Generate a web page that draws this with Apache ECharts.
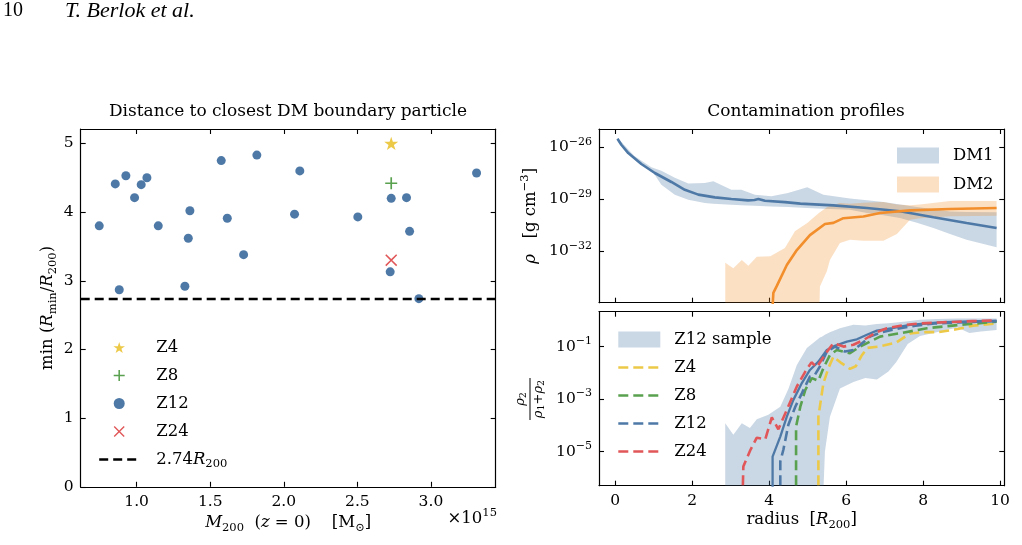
<!DOCTYPE html>
<html>
<head>
<meta charset="utf-8">
<title>Boundary particles and contamination profiles</title>
<script src="https://cdn.jsdelivr.net/npm/echarts@6/dist/echarts.min.js"></script>
<style>
  html, body { margin: 0; padding: 0; background: #fff; }
  #chart { width: 1022px; height: 545px; }
</style>
</head>
<body>
<div id="chart"></div>
<script>
// ---- left panel: min(R_min / R_200) against M_200 (units of 1e15 Msun)
const z12Mass = [0.746, 0.855, 0.882, 0.927, 0.986, 1.031, 1.070, 1.147, 1.328, 1.351, 1.362, 1.575,
  1.616, 1.727, 1.817, 2.073, 2.109, 2.503, 2.73, 2.723, 2.834, 2.855, 2.918, 3.310];
const z12Rmin = [3.80, 4.41, 2.87, 4.53, 4.21, 4.40, 4.50, 3.80, 2.92, 3.62, 4.02, 4.75,
  3.91, 3.38, 4.83, 3.97, 4.60, 3.93, 4.20, 3.13, 4.21, 3.72, 2.74, 4.57];
const z4Point = [2.73, 5.00];
const z8Point = [2.73, 4.42];
const z24Point = [2.73, 3.30];
const rminLimit = 2.74;
const massTicks = [1.0, 1.5, 2.0, 2.5, 3.0];
const rminTicks = [0, 1, 2, 3, 4, 5];

// ---- top right: density profiles, values are log10(rho / g cm^-3)
const dm1Radius = [0.06, 0.16, 0.34, 0.68, 1.03, 1.46, 1.81, 2.16, 2.59, 3.02, 3.45, 3.62, 3.72, 3.89,
  4.41, 4.81, 5.67, 6.54, 7.40, 8.27, 9.13, 9.91];
const dm1LogRho = [-25.5, -25.85, -26.33, -26.96, -27.48, -28.0, -28.45, -28.73, -28.89, -28.98, -29.06,
  -29.04, -28.98, -29.08, -29.16, -29.25, -29.35, -29.5, -29.69, -30.04, -30.37, -30.66];
const dm1BandRadius = [0.06, 0.5, 0.94, 1.2, 1.55, 1.9, 2.33, 2.55, 3.02, 3.28, 3.63, 4.06, 4.49, 4.99,
  5.41, 6.1, 6.54, 6.97, 7.4, 7.84, 8.27, 8.7, 9.13, 9.91];
const dm1BandHigh = [-25.45, -26.5, -27.15, -27.35, -27.75, -28.08, -28.06, -27.96, -28.45, -28.45, -28.73,
  -28.83, -28.64, -28.3, -28.73, -28.96, -29.05, -29.15, -29.3, -29.45, -29.58, -29.7, -29.73, -29.75];
const dm1BandLow = [-25.55, -26.65, -27.29, -28.16, -28.73, -29.02, -29.21, -29.25, -29.31, -29.34, -29.37,
  -29.42, -29.45, -29.5, -29.54, -29.6, -29.79, -29.92, -30.08, -30.35, -30.66, -31.0, -31.33, -31.77];

const dm2Radius = [4.07, 4.11, 4.20, 4.46, 4.72, 5.06, 5.45, 5.67, 5.93, 6.45, 6.88, 7.66, 8.70, 9.91];
const dm2LogRho = [-36, -34.4, -34.0, -32.79, -31.93, -31.07, -30.43, -30.36, -30.09, -29.99, -29.79,
  -29.64, -29.56, -29.5];
const dm2BandRadius = [2.86, 3.07, 3.29, 3.46, 3.68, 4.03, 4.41, 4.67, 4.99, 5.30, 5.32, 5.5, 5.58, 5.84,
  6.1, 6.45, 6.97, 7.32, 7.66, 7.92, 8.7, 9.91];
const dm2BandHigh = [-32.66, -32.98, -32.5, -32.84, -32.31, -32.29, -31.81, -30.85, -30.37, -29.78, -29.75,
  -29.46, -29.38, -29.21, -29.25, -29.2, -29.16, -29.3, -29.35, -29.3, -29.1, -29.1];
const dm2BandLow = [-36, -36, -36, -36, -36, -36, -36, -36, -36, -36, -34.04, -33.16, -32.5, -31.52,
  -31.33, -31.4, -31.4, -31.0, -30.18, -30.1, -29.98, -29.95];
const rhoTicks = [-32, -29, -26];

// ---- bottom right: contamination fraction, values are log10(rho2 / (rho1 + rho2))
const sampleRadius = [2.86, 3.07, 3.29, 3.5, 3.68, 3.98, 4.29, 4.5, 4.72, 4.98, 5.32, 5.37, 5.45, 5.58,
  5.84, 6.19, 6.5, 6.8, 7.1, 7.3, 7.6, 7.92, 8.35, 8.9, 9.2, 9.5, 9.91];
const sampleHigh = [-3.92, -4.36, -3.92, -4.1, -3.77, -3.6, -3.29, -2.62, -1.7, -1.05, -0.65, -0.62, -0.55,
  -0.45, -0.3, -0.17, -0.2, -0.14, -0.11, -0.08, -0.03, 0.02, 0.05, 0.07, 0.07, 0.07, 0.07];
const sampleLow = [-8, -8, -8, -8, -8, -8, -8, -8, -8, -8, -8, -8, -5.0, -3.67, -2.6, -2.35, -2.2, -2.25,
  -1.95, -1.6, -0.9, -0.6, -0.45, -0.27, -0.48, -0.42, -0.37];

const medianRadius = [4.09, 4.09, 4.29, 4.46, 4.63, 4.85, 5.06, 5.28, 5.5, 5.71, 6.02, 6.28, 6.54, 6.8,
  7.2, 7.66, 8.1, 8.53, 9.0, 9.5, 9.91];
const medianFrac = [-8, -5.19, -4.43, -3.67, -3.03, -2.39, -1.89, -1.57, -1.13, -0.97, -0.81, -0.72, -0.55,
  -0.39, -0.3, -0.17, -0.12, -0.07, -0.05, -0.03, -0.02];

const z4Radius = [5.28, 5.28, 5.41, 5.54, 5.67, 5.85, 6.1, 6.25, 6.4, 6.55, 6.84, 7.0, 7.3, 7.66, 8.0,
  8.4, 8.9, 9.3, 9.91];
const z4Frac = [-8, -3.67, -2.39, -1.82, -1.38, -1.6, -1.85, -1.75, -1.35, -1.05, -1.0, -0.95, -0.85,
  -0.5, -0.45, -0.45, -0.33, -0.2, -0.12];
const z8Radius = [4.70, 4.70, 4.81, 4.94, 5.11, 5.28, 5.41, 5.58, 5.76, 5.93, 6.1, 6.36, 6.62, 6.88, 7.4,
  8.1, 8.96, 9.91];
const z8Frac = [-8, -4.05, -3.29, -2.65, -2.2, -2.3, -1.82, -1.32, -1.13, -1.19, -1.25, -1.0, -0.81, -0.62,
  -0.49, -0.3, -0.17, -0.05];
const z12Radius = [4.29, 4.29, 4.37, 4.5, 4.68, 4.85, 5.06, 5.19, 5.32, 5.5, 5.71, 5.97, 6.19, 6.36, 6.62,
  6.88, 7.3, 7.8, 8.3, 8.9, 9.4, 9.91];
const z12Frac = [-8, -5.38, -4.93, -3.98, -3.29, -2.78, -2.14, -2.07, -1.76, -1.19, -1.0, -1.19, -1.13,
  -0.94, -0.62, -0.47, -0.33, -0.2, -0.12, -0.08, -0.05, -0.03];
const z24Radius = [3.29, 3.33, 3.51, 3.68, 3.9, 4.07, 4.24, 4.46, 4.72, 4.94, 5.1, 5.24, 5.5, 5.67, 5.93,
  6.19, 6.45, 6.8, 7.06, 7.5, 7.92, 8.4, 8.79, 9.3, 9.91];
const z24Frac = [-8, -5.57, -4.95, -4.47, -4.53, -3.7, -4.15, -3.41, -2.52, -1.95, -1.6, -1.78, -1.2, -0.87,
  -1.0, -0.93, -0.75, -0.45, -0.3, -0.18, -0.12, -0.08, -0.06, -0.03, 0.0];
const fracTicks = [-5, -3, -1];
const radiusTicks = [0, 2, 4, 6, 8, 10];

// ---- styling
const FONT = '"DejaVu Serif", "Liberation Serif", serif';
const HEAD_FONT = '"Liberation Serif", serif';
const BLUE = '#4e79a7';
const ORANGE = '#f28e2b';
const GREEN = '#59a14f';
const RED = '#e15759';
const YELLOW = '#edc948';
const DASH = [10, 5];

const STAR = 'path://M50,0L61.2,34.5L97.6,34.5L68.2,55.9L79.4,90.5L50,69.1L20.6,90.5L31.8,55.9L2.4,34.5L38.8,34.5Z';
const PLUS = 'path://M43,0H57V43H100V57H57V100H43V57H0V43H43Z';
const CROSS = 'path://M9,0L50,41L91,0L100,9L59,50L100,91L91,100L50,59L9,100L0,91L41,50L0,9Z';

const rich = {
  n: { fontFamily: FONT, fontSize: 16.5, color: '#000' },
  i: { fontFamily: FONT, fontSize: 16.5, fontStyle: 'italic', color: '#000' },
  sub: { fontFamily: FONT, fontSize: 11.5, color: '#000', padding: [9, 0, 0, 0] },
  sup: { fontFamily: FONT, fontSize: 11.5, color: '#000', padding: [0, 0, 11, 0] },
  b: { fontFamily: FONT, fontSize: 15.5, color: '#000' },
  e: { fontFamily: FONT, fontSize: 11, color: '#000', padding: [0, 0, 11, 0] }
};

const pairs = (xs, ys) => xs.map((x, i) => [x, ys[i]]);
const powLabel = (v) => `{b|10}{e|${v < 0 ? '\u2212' : ''}${Math.abs(v)}}`;

const axisLineStyle = { show: true, onZero: false, lineStyle: { color: '#000', width: 1.2 } };

// one side of a framed panel; labels only where a formatter is given
const makeAxis = (gridIndex, position, min, max, ticks, formatter, extra) => ({
  type: 'value',
  gridIndex,
  position,
  min,
  max,
  splitLine: { show: false },
  axisLine: axisLineStyle,
  axisTick: { show: true, inside: true, length: 5, customValues: ticks, lineStyle: { color: '#000', width: 1.1 } },
  axisLabel: formatter
    ? { show: true, customValues: ticks, formatter, color: '#000', fontFamily: FONT, fontSize: 15.5, margin: 7, rich }
    : { show: false },
  ...extra
});

// filled band between a low and a high curve, drawn through the axes of its grid
const bandSeries = (name, xs, lo, hi, color, axisIndex) => ({
  type: 'custom',
  name,
  xAxisIndex: axisIndex,
  yAxisIndex: axisIndex,
  clip: true,
  z: 1,
  silent: true,
  itemStyle: { color },
  data: [[xs[0], hi[0]]],
  renderItem: (params, api) => {
    const points = xs.map((x, i) => api.coord([x, hi[i]]));
    for (let i = xs.length - 1; i >= 0; i--) points.push(api.coord([xs[i], lo[i]]));
    const cs = params.coordSys;
    return {
      type: 'polygon',
      shape: { points },
      style: { fill: color },
      clipPath: { type: 'rect', shape: { x: cs.x, y: cs.y, width: cs.width, height: cs.height } }
    };
  }
});

const lineSeries = (name, xs, ys, color, width, type, axisIndex) => ({
  type: 'line',
  name,
  xAxisIndex: axisIndex,
  yAxisIndex: axisIndex,
  data: pairs(xs, ys),
  showSymbol: false,
  symbol: 'none',
  clip: true,
  z: 3,
  lineStyle: { color, width, type },
  itemStyle: { color }
});

// line entries in a legend: keep the stroke, hide the marker echarts adds
const lineEntry = (name) => ({ name, itemStyle: { opacity: 0, color: 'rgba(0,0,0,0)', borderWidth: 0 } });

const legendText = { fontFamily: FONT, fontSize: 16.5, color: '#000', padding: [0, 0, 0, 9] };

const chart = echarts.init(document.getElementById('chart'), null, { renderer: 'canvas' });

const option = {
  animation: false,
  backgroundColor: '#fff',
  textStyle: { fontFamily: FONT },
  grid: [
    { left: 80.7, top: 129, width: 415, height: 357.8, outerBoundsMode: 'none' },
    { left: 599, top: 129, width: 405.3, height: 173.7, outerBoundsMode: 'none' },
    { left: 599, top: 311.7, width: 405.3, height: 174, outerBoundsMode: 'none' }
  ],
  // axes come in pairs per grid: 0/1 left panel, 2/3 top right, 4/5 bottom right
  xAxis: [
    makeAxis(0, 'bottom', 0.62, 3.44, massTicks, (v) => v.toFixed(1), {
      name: '{i|M}{sub|200}{n|  (}{i|z}{n| = 0)    [M}{sub|\u2299}{n|]}',
      nameLocation: 'middle',
      nameGap: 24,
      nameTextStyle: { rich }
    }),
    makeAxis(0, 'top', 0.62, 3.44, massTicks, null),
    makeAxis(1, 'bottom', -0.42, 10.11, radiusTicks, null),
    makeAxis(1, 'top', -0.42, 10.11, radiusTicks, null),
    makeAxis(2, 'bottom', -0.42, 10.11, radiusTicks, (v) => String(v), {
      name: '{n|radius  [}{i|R}{sub|200}{n|]}',
      nameLocation: 'middle',
      nameGap: 24,
      nameTextStyle: { rich }
    }),
    makeAxis(2, 'top', -0.42, 10.11, radiusTicks, null)
  ],
  yAxis: [
    makeAxis(0, 'left', 0, 5.21, rminTicks, (v) => String(v), {
      name: '{n|min}{n| (}{i|R}{sub|min}{n|/}{i|R}{sub|200}{n|)}',
      nameLocation: 'middle',
      nameRotate: 90,
      nameGap: 22,
      nameTextStyle: { rich }
    }),
    makeAxis(0, 'right', 0, 5.21, rminTicks, null),
    makeAxis(1, 'left', -34.97, -24.94, rhoTicks, powLabel, {
      name: '{i|\u03c1}{n|   [g cm}{sup|\u22123}{n|]}',
      nameLocation: 'middle',
      nameRotate: 90,
      nameGap: 57,
      nameTextStyle: { rich }
    }),
    makeAxis(1, 'right', -34.97, -24.94, rhoTicks, null),
    makeAxis(2, 'left', -6.3, 0.33, fracTicks, powLabel),
    makeAxis(2, 'right', -6.3, 0.33, fracTicks, null)
  ],
  legend: [
    {
      left: 98,
      top: 339,
      padding: 0,
      orient: 'vertical',
      itemWidth: 40,
      itemHeight: 11,
      itemGap: 11,
      selectedMode: false,
      lineStyle: { width: 2.4 },
      data: [
        { name: 'Z4', icon: STAR },
        { name: 'Z8', icon: PLUS },
        { name: 'Z12', icon: 'circle' },
        { name: 'Z24', icon: CROSS },
        lineEntry('2.74R200')
      ],
      formatter: (n) => (n === '2.74R200' ? '{n|2.74}{i|R}{sub|200}' : n),
      textStyle: { ...legendText, padding: [0, 0, 0, 12], rich }
    },
    {
      left: 897,
      top: 147,
      padding: 0,
      orient: 'vertical',
      itemWidth: 42,
      itemHeight: 16,
      itemGap: 12,
      selectedMode: false,
      data: [{ name: 'DM1', icon: 'rect' }, { name: 'DM2', icon: 'rect' }],
      textStyle: legendText
    },
    {
      left: 617,
      top: 331,
      padding: 0,
      orient: 'vertical',
      itemWidth: 42,
      itemHeight: 16,
      itemGap: 11,
      selectedMode: false,
      lineStyle: { width: 2.6 },
      data: [{ name: 'Z12 sample', icon: 'rect' }, lineEntry('Z4 '), lineEntry('Z8 '), lineEntry('Z12 '), lineEntry('Z24 ')],
      formatter: (n) => n.trim(),
      textStyle: legendText
    }
  ],
  graphic: [
    { type: 'text', x: 3, y: 11, style: { text: '10', fontFamily: HEAD_FONT, fontSize: 20, fill: '#000', verticalAlign: 'middle' } },
    { type: 'text', x: 65, y: 11, style: { text: 'T. Berlok et al.', fontFamily: HEAD_FONT, fontSize: 22, fontStyle: 'italic', fill: '#000', verticalAlign: 'middle' } },
    { type: 'text', x: 288, y: 112, style: { text: 'Distance to closest DM boundary particle', fontFamily: FONT, fontSize: 17, fill: '#000', align: 'center', verticalAlign: 'middle' } },
    { type: 'text', x: 806, y: 112, style: { text: 'Contamination profiles', fontFamily: FONT, fontSize: 17, fill: '#000', align: 'center', verticalAlign: 'middle' } },
    { type: 'text', x: 497, y: 519, style: { text: '{n|\u00d710}{sup|15}', rich, align: 'right', verticalAlign: 'middle' } },
    {
      type: 'group',
      x: 530,
      y: 399,
      rotation: Math.PI / 2,
      children: [
        { type: 'text', x: 0, y: -1, style: { text: '{i|\u03c1}{s|2}', align: 'center', verticalAlign: 'bottom', rich: { i: { fontFamily: FONT, fontSize: 13, fontStyle: 'italic' }, s: { fontFamily: FONT, fontSize: 9.5, padding: [6, 0, 0, 0] } } } },
        { type: 'line', shape: { x1: -21, y1: 0, x2: 21, y2: 0 }, style: { stroke: '#000', lineWidth: 1 } },
        { type: 'text', x: 0, y: 1, style: { text: '{i|\u03c1}{s|1}{n|+}{i|\u03c1}{s|2}', align: 'center', verticalAlign: 'top', rich: { i: { fontFamily: FONT, fontSize: 13, fontStyle: 'italic' }, n: { fontFamily: FONT, fontSize: 13 }, s: { fontFamily: FONT, fontSize: 9.5, padding: [6, 0, 0, 0] } } } }
      ]
    }
  ],
  series: [
    // left panel
    {
      type: 'line',
      name: '2.74R200',
      xAxisIndex: 0,
      yAxisIndex: 0,
      data: [],
      symbol: 'none',
      lineStyle: { color: '#000', width: 2.4, type: [9, 5] },
      itemStyle: { color: '#000' },
      markLine: {
        silent: true,
        symbol: 'none',
        label: { show: false },
        lineStyle: { color: '#000', width: 2.4, type: [9, 5] },
        data: [{ yAxis: rminLimit }]
      }
    },
    {
      type: 'scatter', name: 'Z12', xAxisIndex: 0, yAxisIndex: 0,
      data: pairs(z12Mass, z12Rmin), symbol: 'circle', symbolSize: 9,
      itemStyle: { color: BLUE, opacity: 1 }, z: 4
    },
    {
      type: 'scatter', name: 'Z4', xAxisIndex: 0, yAxisIndex: 0,
      data: [z4Point], symbol: STAR, symbolSize: 14, symbolKeepAspect: true,
      itemStyle: { color: YELLOW, opacity: 1 }, z: 5
    },
    {
      type: 'scatter', name: 'Z8', xAxisIndex: 0, yAxisIndex: 0,
      data: [z8Point], symbol: PLUS, symbolSize: 12, symbolKeepAspect: true,
      itemStyle: { color: GREEN, opacity: 1 }, z: 5
    },
    {
      type: 'scatter', name: 'Z24', xAxisIndex: 0, yAxisIndex: 0,
      data: [z24Point], symbol: CROSS, symbolSize: 12, symbolKeepAspect: true,
      itemStyle: { color: RED, opacity: 1 }, z: 5
    },

    // top right
    bandSeries('DM1', dm1BandRadius, dm1BandLow, dm1BandHigh, 'rgba(78,121,167,0.3)', 2),
    bandSeries('DM2', dm2BandRadius, dm2BandLow, dm2BandHigh, 'rgba(242,142,43,0.28)', 2),
    lineSeries('DM1 mean', dm1Radius, dm1LogRho, BLUE, 2.6, 'solid', 2),
    lineSeries('DM2 mean', dm2Radius, dm2LogRho, ORANGE, 2.6, 'solid', 2),

    // bottom right
    bandSeries('Z12 sample', sampleRadius, sampleLow, sampleHigh, 'rgba(78,121,167,0.3)', 4),
    lineSeries('Z12 median', medianRadius, medianFrac, BLUE, 2.3, 'solid', 4),
    lineSeries('Z4 ', z4Radius, z4Frac, YELLOW, 2.6, DASH, 4),
    lineSeries('Z8 ', z8Radius, z8Frac, GREEN, 2.6, DASH, 4),
    lineSeries('Z12 ', z12Radius, z12Frac, BLUE, 2.6, DASH, 4),
    lineSeries('Z24 ', z24Radius, z24Frac, RED, 2.6, DASH, 4)
  ]
};

chart.setOption(option);
</script>
</body>
</html>
